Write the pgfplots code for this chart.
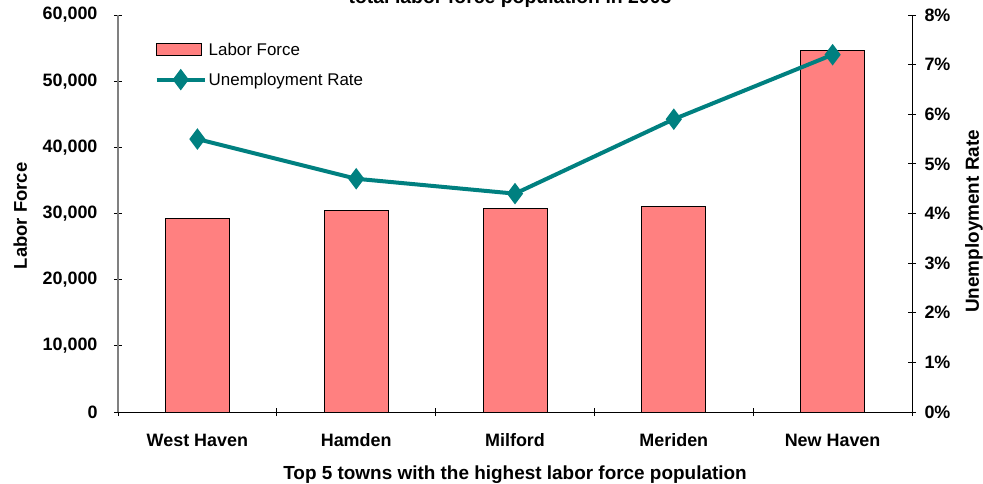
\documentclass[border=0pt]{standalone}
\usepackage{pgfplots}
\pgfplotsset{compat=1.18}
\usepackage{fontspec}
\setmainfont{Liberation Sans}
\definecolor{barfill}{HTML}{FF8080}
\definecolor{lineteal}{HTML}{008080}
\pgfplotsset{
  barleg/.style={legend image code/.code={\draw[fill=barfill, draw=black, line width=1bp] (0bp,-6bp) rectangle (45bp,6bp);}},
  lineleg/.style={legend image code/.code={\draw[mark repeat=2, mark phase=2, ##1] plot coordinates {(0bp,0bp) (24bp,0bp) (48bp,0bp)};}},
}
\begin{document}
\begin{tikzpicture}
\pgfplotsset{every axis/.append style={
  scale only axis, width=794bp, height=397bp, xmin=-0.5, xmax=4.5,
  /pgf/number format/assume math mode=true,
  tick label style={font=\fontsize{18}{21}\selectfont\bfseries, black},
  label style={font=\fontsize{18.5}{21}\selectfont\bfseries},
  tick align=center, major tick length=8bp,
  tick style={black, line width=0.8bp},
}}
\begin{axis}[
  at={(0,0)}, anchor=south west,
  ymin=0, ymax=60000, ytick={0,10000,...,60000},
  scaled y ticks=false,
  yticklabel style={/pgf/number format/1000 sep={,}, xshift=-13bp},
  axis x line*=bottom, axis y line*=left,
  x axis line style={black, line width=0.8bp, -},
  y axis line style={gray, line width=1.2bp, -},
  xtick={-0.5,0.5,...,4.5}, xticklabels={},
  extra x ticks={0,1,2,3,4},
  extra x tick labels={West Haven, Hamden, Milford, Meriden, New Haven},
  extra x tick style={major tick length=0pt, xticklabel style={anchor=base, yshift=-34bp}},
  ylabel={Labor Force},
  ylabel style={at={(axis description cs:-0.123,0.494)}, anchor=center},
  xlabel={Top 5 towns with the highest labor force population},
  xlabel style={at={(axis description cs:0.5,0)}, anchor=base, yshift=-67bp, font=\fontsize{19}{22}\selectfont\bfseries},
]
\addplot[ybar, bar width=64bp, fill=barfill, draw=black, line width=1bp]
  coordinates {(0,29200) (1,30500) (2,30700) (3,31000) (4,54700)};
\end{axis}
\begin{axis}[
  at={(0,0)}, anchor=south west,
  ymin=0, ymax=8, ytick={0,...,8},
  yticklabel={\pgfmathprintnumber{\tick}\%},
  yticklabel style={xshift=5bp},
  axis y line*=right, axis x line=none,
  y axis line style={black, line width=0.8bp, -},
  ylabel={Unemployment Rate},
  ylabel style={at={(axis description cs:1.078,0.48)}, anchor=center, font=\fontsize{19}{22}\selectfont\bfseries},
  legend style={draw=none, fill=none, at={(axis description cs:0.046,0.935)}, anchor=north west,
    font=\fontsize{17}{20}\selectfont, row sep=12bp, inner sep=0pt},
  legend cell align=left,
]
\addlegendimage{barleg}
\addlegendentry{Labor Force}
\addplot[lineteal, line width=4bp, mark=diamond*, mark size=7.5bp, mark options={solid, fill=lineteal}, lineleg]
  coordinates {(0,5.5) (1,4.7) (2,4.4) (3,5.9) (4,7.2)};
\addlegendentry{Unemployment Rate}
\end{axis}
\node[anchor=base, font=\fontsize{19.5}{22}\selectfont\bfseries] at (392bp,408bp) {total labor force population in 2003};
\pgfresetboundingbox
\useasboundingbox (-118bp,-72bp) rectangle (865bp,412bp);
\end{tikzpicture}
\end{document}
